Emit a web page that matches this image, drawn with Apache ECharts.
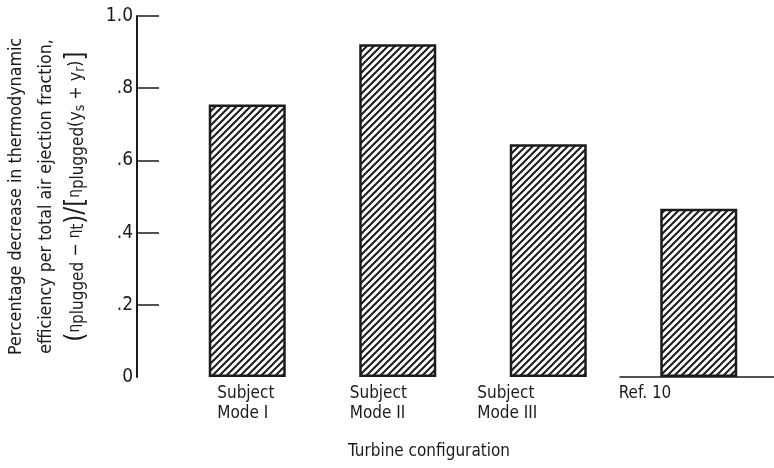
<!DOCTYPE html>
<html>
<head>
<meta charset="utf-8">
<script src="https://cdn.jsdelivr.net/npm/echarts@6/dist/echarts.min.js"></script>
<style>
  html, body { margin: 0; padding: 0; background: #fff; }
  #chart { width: 774px; height: 468px; }
</style>
</head>
<body>
<div id="chart"></div>
<script>
// Turbine configurations along the horizontal axis
const categories = ['Subject\nMode I', 'Subject\nMode II', 'Subject\nMode III', 'Ref. 10'];
// Percentage decrease in thermodynamic efficiency per total air ejection fraction
const values = [0.755, 0.922, 0.645, 0.466];
// Vertical axis tick values and their printed labels
const yTicks = [0.2, 0.4, 0.6, 0.8, 1.0];
const yTickLabels = { 0: '0', 0.2: '.2', 0.4: '.4', 0.6: '.6', 0.8: '.8', 1: '1.0' };

const FONT = '"DejaVu Sans Condensed", "Liberation Sans Narrow", "Roboto Condensed", "DejaVu Sans", sans-serif';
const INK = '#1b1b1b';

// how far left of each bar centre its caption starts
const captionShift = [30, 48, 71, 80];

// diagonal hatch tile for the bars
function hatchPattern() {
  const s = 7;
  const c = document.createElement('canvas');
  c.width = s; c.height = s;
  const g = c.getContext('2d');
  g.fillStyle = '#fff';
  g.fillRect(0, 0, s, s);
  g.strokeStyle = INK;
  g.lineWidth = 2;
  g.lineCap = 'square';
  g.beginPath();
  g.moveTo(-1, s + 1); g.lineTo(s + 1, -1);
  g.moveTo(-1, 1); g.lineTo(1, -1);
  g.moveTo(s - 1, s + 1); g.lineTo(s + 1, s - 1);
  g.stroke();
  return c;
}

const captionRich = {};
captionShift.forEach((s, i) => {
  captionRich['c' + i] = {
    width: 2 * s, align: 'left', fontFamily: FONT, fontSize: 17, lineHeight: 20, color: INK
  };
});

const chart = echarts.init(document.getElementById('chart'), null, { renderer: 'canvas' });
chart.setOption({
  backgroundColor: '#fff',
  animation: false,
  grid: [
    { left: 172, right: 0, top: 16, bottom: 91, containLabel: false, outerBoundsMode: 'none' },
    { left: 620, right: 0, top: 16, bottom: 91, containLabel: false, outerBoundsMode: 'none' }
  ],
  xAxis: [
    {
      type: 'category',
      gridIndex: 0,
      data: categories,
      axisLine: { show: false },
      axisTick: { show: false },
      axisLabel: {
        margin: 7,
        interval: 0,
        formatter: (v, i) => v.split('\n').map(l => `{c${i}|${l}}`).join('\n'),
        rich: captionRich
      },
      name: 'Turbine configuration',
      nameLocation: 'middle',
      nameGap: 66,
      nameTextStyle: { fontFamily: FONT, fontSize: 17, color: INK, padding: [0, 88, 0, 0] }
    },
    {
      // short baseline segment under the last bar
      type: 'value',
      gridIndex: 1,
      axisLine: { show: true, lineStyle: { color: INK, width: 1.5 } },
      axisTick: { show: false },
      axisLabel: { show: false },
      splitLine: { show: false }
    }
  ],
  yAxis: [
    {
      type: 'value',
      gridIndex: 0,
      min: 0,
      max: 1,
      interval: 0.2,
      offset: 35,
      axisLine: { show: true, lineStyle: { color: INK, width: 2 } },
      axisTick: {
        show: true, inside: true, length: 22,
        customValues: yTicks,
        lineStyle: { color: INK, width: 1.5 }
      },
      splitLine: { show: false },
      axisLabel: {
        margin: 4,
        fontFamily: FONT,
        fontSize: 19,
        color: INK,
        formatter: v => yTickLabels[Math.round(v * 10) / 10]
      },
      name: '{t|Percentage decrease in thermodynamic}\n' +
            '{t|efficiency per total air ejection fraction,}\n' +
            '{b|(}{e|η}{s|plugged}{t| − }{e|η}{s|t}{b|)}{b|/}{b|[}{e|η}{s|plugged}{t|(y}{r|s}{t| + y}{r|r}{t|)}{b|]}',
      nameLocation: 'middle',
      nameRotate: 90,
      nameGap: 46,
      nameTextStyle: {
        fontFamily: FONT, fontSize: 17.7, color: INK, lineHeight: 30,
        rich: {
          t: { fontFamily: FONT, fontSize: 17.7, color: INK, lineHeight: 30 },
          e: { fontFamily: FONT, fontSize: 15, color: INK, lineHeight: 30, padding: [0, 0, 2, 0] },
          s: { fontFamily: FONT, fontSize: 17, color: INK, lineHeight: 30, padding: [6, 0, 0, 0] },
          r: { fontFamily: FONT, fontSize: 14, color: INK, lineHeight: 30, padding: [8, 0, 0, 0] },
          b: { fontFamily: FONT, fontSize: 26, color: INK, lineHeight: 30 }
        }
      }
    },
    { type: 'value', gridIndex: 1, show: false }
  ],
  series: [
    {
      type: 'bar',
      xAxisIndex: 0,
      yAxisIndex: 0,
      data: values,
      barWidth: 77,
      itemStyle: {
        color: { image: hatchPattern(), repeat: 'repeat' },
        borderColor: INK,
        borderWidth: 2.5
      }
    }
  ]
});
</script>
</body>
</html>
